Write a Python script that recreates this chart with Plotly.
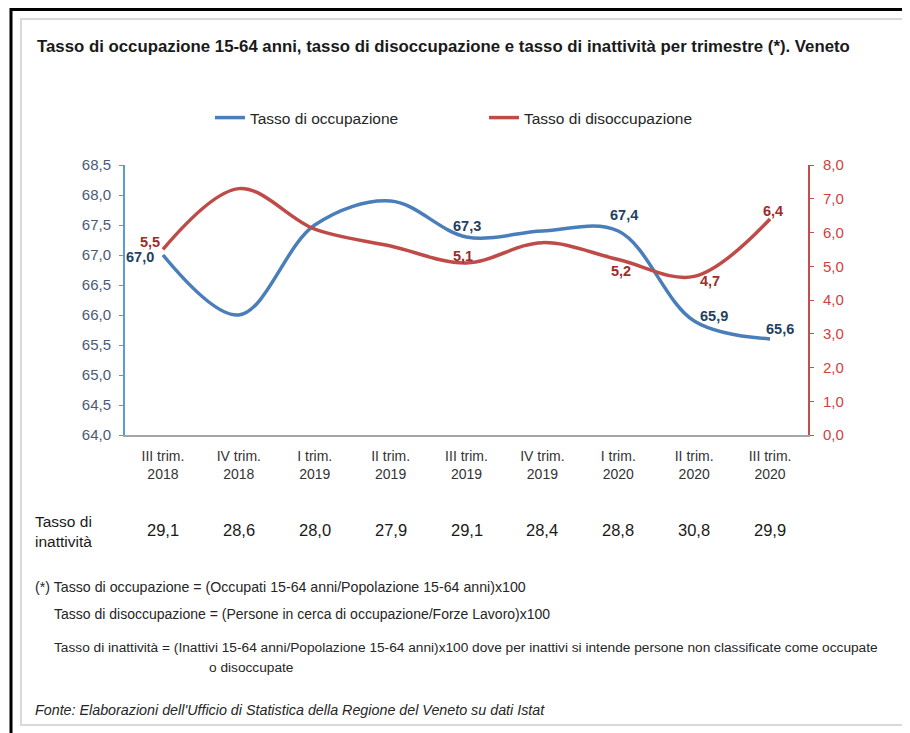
import plotly.graph_objects as go

# ---- data ----
categories = ["III trim.<br>2018", "IV trim.<br>2018", "I trim.<br>2019", "II trim.<br>2019",
              "III trim.<br>2019", "IV trim.<br>2019", "I trim.<br>2020", "II trim.<br>2020",
              "III trim.<br>2020"]
occupazione = [67.0, 66.0, 67.5, 67.9, 67.3, 67.4, 67.4, 65.9, 65.6]
disoccupazione = [5.5, 7.3, 6.1, 5.6, 5.1, 5.7, 5.2, 4.7, 6.4]
inattivita = [29.1, 28.6, 28.0, 27.9, 29.1, 28.4, 28.8, 30.8, 29.9]
occ_labelled = [0, 4, 6, 7, 8]
dis_labelled = [0, 4, 6, 7, 8]

# page has an 8px body margin: figure is drawn from (8, 8)
OFF = 8
W, H = 910 - OFF, 733 - OFF
L, R, T, B = 125, 808, 165, 435  # plot area in page pixels


def px(x):
    return (x - L) / (R - L)


def py(y):
    return (B - y) / (B - T)


FONT = "Liberation Sans Narrow, Arial Narrow, Liberation Sans, Arial, sans-serif"
BLUE = "#4A7EBB"
RED = "#BE4B48"
BLUE_LBL = "#243F60"
RED_LBL = "#A02B2B"

fig = go.Figure()
fig.add_trace(go.Scatter(x=categories, y=occupazione, name="Tasso di occupazione",
                         mode="lines", line=dict(color=BLUE, width=3.5, shape="spline", smoothing=1.0),
                         yaxis="y"))
fig.add_trace(go.Scatter(x=categories, y=disoccupazione, name="Tasso di disoccupazione",
                         mode="lines", line=dict(color=RED, width=3.5, shape="spline", smoothing=1.0),
                         yaxis="y2"))

ann = []
occ_shift = {0: (-23, -2), 4: (0, 11), 6: (6, 16), 7: (20, 5), 8: (10, 10)}
dis_shift = {0: (-13, 7), 4: (-4, 7), 6: (3, -11), 7: (16, -5), 8: (3, 8)}
for i in occ_labelled:
    dx, dy = occ_shift[i]
    ann.append(dict(x=categories[i], y=occupazione[i], xref="x", yref="y",
                    text="<b>" + f"{occupazione[i]:.1f}".replace(".", ",") + "</b>", showarrow=False,
                    xshift=dx, yshift=dy, font=dict(family=FONT, size=14.5, color=BLUE_LBL)))
for i in dis_labelled:
    dx, dy = dis_shift[i]
    ann.append(dict(x=categories[i], y=disoccupazione[i], xref="x", yref="y2",
                    text="<b>" + f"{disoccupazione[i]:.1f}".replace(".", ",") + "</b>", showarrow=False,
                    xshift=dx, yshift=dy, font=dict(family=FONT, size=14.5, color=RED_LBL)))

# table row
for c, v in zip(categories, inattivita):
    ann.append(dict(x=c, y=py(530), xref="x", yref="paper", text=f"{v:.1f}".replace(".", ","),
                    showarrow=False, yanchor="middle",
                    font=dict(family=FONT, size=16.5, color="#1a1a1a")))
ann.append(dict(x=px(33), y=py(531), xref="paper", yref="paper", text="Tasso di<br>inattività",
                showarrow=False, xanchor="left", yanchor="middle", align="left",
                font=dict(family=FONT, size=15.5, color="#1a1a1a")))

notes = [
    (33, 587, "(*) Tasso di occupazione = (Occupati 15-64 anni/Popolazione 15-64 anni)x100", False, 14.2),
    (52, 614, "Tasso di disoccupazione = (Persone in cerca di occupazione/Forze Lavoro)x100", False, 14),
    (52, 647, "Tasso di inattività = (Inattivi 15-64 anni/Popolazione 15-64 anni)x100 dove per inattivi si intende persone non classificate come occupate", False, 13.7),
    (207, 667, "o disoccupate", False, 13.7),
    (33, 710, "Fonte: Elaborazioni dell'Ufficio di Statistica della Regione del Veneto su dati Istat", True, 14.3),
]
for x, y, t, it, s in notes:
    ann.append(dict(x=px(x), y=py(y), xref="paper", yref="paper",
                    text=f"<i>{t}</i>" if it else t, showarrow=False,
                    xanchor="left", yanchor="middle",
                    font=dict(family=FONT, size=s, color="#262626")))

ann.append(dict(x=px(35), y=py(46), xref="paper", yref="paper",
                text="<b>Tasso di occupazione 15-64 anni, tasso di disoccupazione e tasso di inattività per trimestre (*). Veneto</b>",
                showarrow=False, xanchor="left", yanchor="middle",
                font=dict(family=FONT, size=16.8, color="#1a1a1a")))

shapes = [
    dict(type="rect", xref="paper", yref="paper", x0=px(21), x1=px(903), y0=py(19), y1=py(725),
         line=dict(color="#D9D9D9", width=2), fillcolor="rgba(0,0,0,0)", layer="below"),
    dict(type="line", xref="paper", yref="paper", x0=px(11), x1=px(11), y0=py(8), y1=py(745),
         line=dict(color="#000000", width=3)),
    dict(type="line", xref="paper", yref="paper", x0=px(10), x1=px(920), y0=py(9.5), y1=py(9.5),
         line=dict(color="#000000", width=3)),
]

fig.update_layout(
    width=W, height=H,
    margin=dict(l=L - OFF, r=W - (R - OFF), t=T - OFF, b=H - (B - OFF), pad=0),
    paper_bgcolor="white", plot_bgcolor="white",
    separators=",.",
    font=dict(family=FONT, size=14, color="#333333"),
    showlegend=True,
    legend=dict(orientation="h", x=px(210), y=py(118), xanchor="left", yanchor="middle",
                entrywidth=229, font=dict(family=FONT, size=15.5, color="#262626"),
                bgcolor="rgba(0,0,0,0)"),
    xaxis=dict(type="category", range=[-0.5, 8.5], showgrid=False, showline=True,
               linecolor="#A6A6A6", linewidth=2, ticks="", zeroline=False,
               ticklabelstandoff=7,
               tickfont=dict(family=FONT, size=14, color="#333333")),
    yaxis=dict(range=[64.0, 68.5], dtick=0.5, tickformat=".1f", showgrid=False,
               showline=True, linecolor="#5B9BD5", linewidth=2, ticks="outside",
               ticklen=4, tickcolor="#5B9BD5", zeroline=False, ticklabelstandoff=5,
               tickfont=dict(family=FONT, size=15, color="#4A5A78")),
    yaxis2=dict(range=[0, 8], dtick=1, tickformat=".1f", overlaying="y", side="right",
                showgrid=False, showline=True, linecolor="#C0504D", linewidth=2,
                ticks="outside", ticklen=4, tickcolor="#C0504D", zeroline=False,
                ticklabelstandoff=6,
                tickfont=dict(family=FONT, size=15, color="#D0413E")),
    annotations=ann,
    shapes=shapes,
)

fig.write_html("out.html")
